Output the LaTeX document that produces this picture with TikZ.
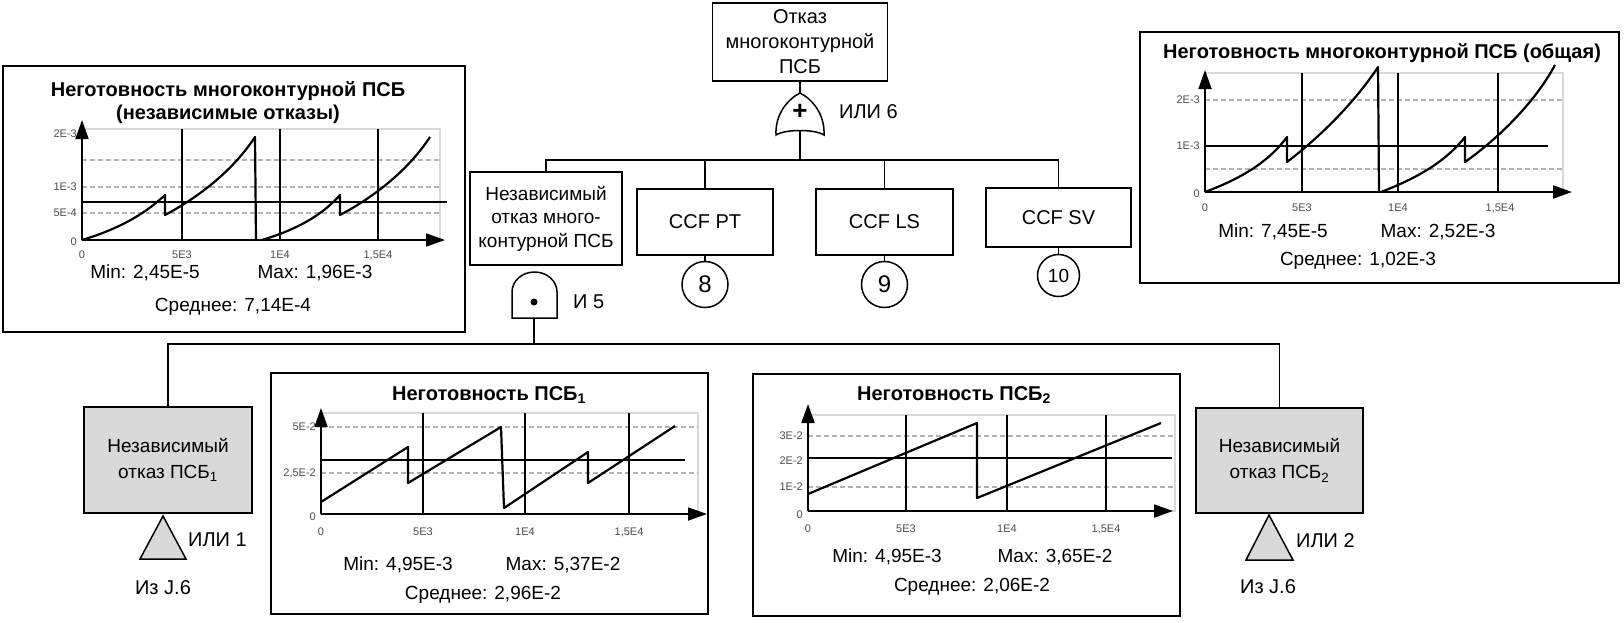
\documentclass[tikz,border=0pt]{standalone}
\usepackage{fontspec}
\setmainfont{Liberation Sans}
\usetikzlibrary{arrows.meta, positioning}

\begin{document}
\begin{tikzpicture}[x=1pt, y=-1pt,
    every node/.style={font=\fontsize{20}{25}\selectfont, inner sep=0pt},
    box/.style={draw, line width=1.5pt, align=center},
    basic/.style={box, fill=black!15},
    refnum/.style={draw, circle, line width=1.5pt, minimum size=46pt, font=\fontsize{24}{24}\selectfont},
    wire/.style={line width=1.5pt},
    panel/.style={draw, line width=1.8pt},
    ttl/.style={font=\fontsize{20}{22.5}\selectfont\bfseries, align=center},
    stat/.style={font=\fontsize{19}{23}\selectfont},
    ticklbl/.style={font=\fontsize{11}{13}\selectfont, text=black!70},
    axarrow/.style={line width=1.8pt, -{Triangle[length=19pt,width=13pt]}},
    plotarea/.style={draw=black!15, line width=1.5pt},
    gridln/.style={draw=black!30, line width=1.5pt, dash pattern=on 5pt off 3pt},
    vline/.style={line width=1.1pt},
    meanln/.style={line width=1.8pt},
    trace/.style={line width=2.2pt, line join=round},
  ]
  \useasboundingbox (0,0) rectangle (1624,622);
  \fill[white] (0,0) rectangle (1624,622);

  % fault tree: top event
  \node[box, minimum width=175pt, minimum height=78pt] (top) at (800,42) {Отказ\\многоконтурной\\ПСБ};
  \draw[wire, fill=white] (776,135) .. controls (775,114) and (788,99) .. (800,93)
    .. controls (812,99) and (825,114) .. (824,135)
    .. controls (815,129) and (785,129) .. (776,135) -- cycle;
  \node[font=\fontsize{26}{26}\selectfont\bfseries] (plus6) at (800,112) {+};
  \coordinate (or6in) at (800,93);
  \coordinate (or6out) at (800,131);
  \coordinate (bus6) at (800,160);
  \node[anchor=west] (lbl6) at (839,112) {ИЛИ 6};

  \node[box, minimum width=152pt, minimum height=93pt, font=\fontsize{19}{23.5}\selectfont] (indep) at (546,218.5)
    {Независимый\\отказ много-\\контурной ПСБ};
  \node[box, minimum width=136pt, minimum height=66pt] (ccfpt) at (705,222) {CCF PT};
  \node[box, minimum width=137pt, minimum height=66pt] (ccfls) at (884.5,222) {CCF LS};
  \node[box, minimum width=145pt, minimum height=59pt] (ccfsv) at (1058.5,217.5) {CCF SV};
  \node[refnum, below=5pt of ccfpt] (n8) {8};
  \node[refnum, below=5pt of ccfls] (n9) {9};
  \node[refnum, minimum size=42pt, font=\fontsize{19}{19}\selectfont, below=6pt of ccfsv] (n10) {10};

  \draw[wire] (top) -- (or6in);
  \draw[wire] (or6out) -- (bus6);
  \draw[wire] (indep.north) |- (bus6) -| (ccfsv.north);
  \draw[wire] (ccfpt.north) -- (ccfpt.north |- bus6);
  \draw[wire] (ccfls.north) -- (ccfls.north |- bus6);
  \draw[wire] (ccfpt) -- (n8);
  \draw[wire] (ccfls) -- (n9);
  \draw[wire] (ccfsv) -- (n10);

  % AND gate
  \draw[wire, fill=white] (512,318) -- (512,292)
    arc[start angle=180, end angle=360, x radius=22.5, y radius=20] -- (557,318) -- cycle;
  \fill (534,302) circle[radius=3.5];
  \coordinate (and5out) at (534,318);
  \coordinate (bus5) at (534,344);
  \node[anchor=west] (lbl5) at (573,302) {И 5};

  \node[basic, minimum width=168pt, minimum height=106pt, font=\fontsize{19}{26}\selectfont] (basic1) at (168,460)
    {Независимый\\отказ ПСБ\textsubscript{1}};
  \node[basic, minimum width=167pt, minimum height=105pt, font=\fontsize{19}{26}\selectfont] (basic2) at (1279.5,460.5)
    {Независимый\\отказ ПСБ\textsubscript{2}};
  \draw[wire] (and5out) -- (bus5);
  \draw[wire] (basic1.north) |- (bus5) -| (basic2.north);

  % transfer triangles
  \draw[wire, fill=black!15] (163,516) -- (186,559) -- (140,559) -- cycle;
  \node[anchor=west] (lbl1) at (188,540) {ИЛИ 1};
  \node (from1) at (163,588) {Из J.6};
  \draw[wire, fill=black!15] (1269,515) -- (1293,560) -- (1246,560) -- cycle;
  \node[anchor=west] (lbl2) at (1296,541) {ИЛИ 2};
  \node (from2) at (1268,587) {Из J.6};

  % panel: independent failures
  \node[panel, minimum width=462pt, minimum height=266pt] (pInd) at (234,199) {};
  \node[ttl] (tInd) at (228,102.5) {Неготовность многоконтурной ПСБ\\(независимые отказы)};
  \begin{scope}[shift={(82,240)}]
    \draw[plotarea] (0,0) rectangle (358,-111);
    \foreach \y in {-27,-53,-80} \draw[gridln] (0,\y) -- (358,\y);
    \foreach \x in {100,198,296} \draw[vline] (\x,0) -- (\x,-111);
    \draw[meanln] (0,-38) -- (365,-38);
    \draw[trace] (0,0) .. controls (40,-12) and (65,-28) .. (83,-45) -- (83,-25)
      .. controls (115,-42) and (150,-68) .. (173,-103) -- (174,0);
    \draw[trace] (180,0) .. controls (220,-12) and (243,-28) .. (258,-45) -- (258,-25)
      .. controls (290,-42) and (325,-68) .. (348,-103);
    \draw[axarrow] (0,0) -- (0,-120);
    \draw[axarrow] (0,0) -- (363,0);
    \foreach \y/\t [count=\i] in {-106/2E-3,-53/1E-3,-27/5E-4,2/0}
      \node[ticklbl, anchor=east] (yInd\i) at (-5,\y) {\t};
    \foreach \x/\t [count=\i] in {0/0,100/5E3,198/1E4,296/{1,5E4}}
      \node[ticklbl] (xInd\i) at (\x,15) {\t};
  \end{scope}
  \node[stat] (minInd) at (145,273) {Min: 2,45E-5};
  \node[stat] (maxInd) at (315,273) {Max: 1,96E-3};
  \node[stat] (avgInd) at (233,307) {Среднее: 7,14E-4};

  % panel: total
  \node[panel, minimum width=479pt, minimum height=251pt] (pAll) at (1379.5,157.5) {};
  \node[ttl] (tAll) at (1382,53) {Неготовность многоконтурной ПСБ (общая)};
  \begin{scope}[shift={(1205,192)}]
    \draw[plotarea] (0,0) rectangle (358,-119);
    \foreach \y in {-92,-23} \draw[gridln] (0,\y) -- (358,\y);
    \foreach \x in {97,193,293} \draw[vline] (\x,0) -- (\x,-119);
    \draw[meanln] (0,-46) -- (343,-46);
    \draw[trace] (0,0) .. controls (40,-15) and (65,-32) .. (82,-55) -- (82,-30)
      .. controls (115,-55) and (150,-90) .. (173,-125) -- (174,0);
    \draw[trace] (176,0) .. controls (215,-15) and (242,-32) .. (260,-55) -- (260,-30)
      .. controls (295,-55) and (330,-90) .. (350,-127);
    \draw[axarrow] (0,0) -- (0,-122);
    \draw[axarrow] (0,0) -- (367,0);
    \foreach \y/\t [count=\i] in {-92/2E-3,-46/1E-3,2/0}
      \node[ticklbl, anchor=east] (yAll\i) at (-5,\y) {\t};
    \foreach \x/\t [count=\i] in {0/0,97/5E3,193/1E4,295/{1,5E4}}
      \node[ticklbl] (xAll\i) at (\x,16) {\t};
  \end{scope}
  \node[stat] (minAll) at (1273,232) {Min: 7,45E-5};
  \node[stat] (maxAll) at (1438,232) {Max: 2,52E-3};
  \node[stat] (avgAll) at (1358,261) {Среднее: 1,02E-3};

  % panel: PSB 1
  \node[panel, minimum width=437pt, minimum height=241pt] (pOne) at (489.5,493.5) {};
  \node[ttl] (tOne) at (489,395) {Неготовность ПСБ\textsubscript{1}};
  \begin{scope}[shift={(321,514)}]
    \draw[plotarea] (0,0) rectangle (377,-101);
    \foreach \y in {-87,-41} \draw[gridln] (0,\y) -- (377,\y);
    \foreach \x in {102,204,308} \draw[vline] (\x,0) -- (\x,-101);
    \draw[meanln] (0,-54) -- (364,-54);
    \draw[trace] (0,-12) -- (87,-67) -- (87,-31) -- (180,-87) -- (183,-6)
      -- (267,-62) -- (267,-31) -- (354,-88);
    \draw[axarrow] (0,0) -- (0,-106);
    \draw[axarrow] (0,0) -- (386,0);
    \foreach \y/\t [count=\i] in {-87/5E-2,-41/{2,5E-2},3/0}
      \node[ticklbl, anchor=east] (yOne\i) at (-5,\y) {\t};
    \foreach \x/\t [count=\i] in {0/0,102/5E3,204/1E4,308/{1,5E4}}
      \node[ticklbl] (xOne\i) at (\x,18) {\t};
  \end{scope}
  \node[stat] (minOne) at (398,565) {Min: 4,95E-3};
  \node[stat] (maxOne) at (563,565) {Max: 5,37E-2};
  \node[stat] (avgOne) at (483,595) {Среднее: 2,96E-2};

  % panel: PSB 2
  \node[panel, minimum width=427pt, minimum height=242pt] (pTwo) at (966.5,495) {};
  \node[ttl] (tTwo) at (954,395) {Неготовность ПСБ\textsubscript{2}};
  \begin{scope}[shift={(808,511)}]
    \draw[plotarea] (0,0) rectangle (367,-96);
    \foreach \y in {-75,-24} \draw[gridln] (0,\y) -- (367,\y);
    \foreach \x in {98,199,298} \draw[vline] (\x,0) -- (\x,-96);
    \draw[meanln] (0,-53) -- (364,-53);
    \draw[trace] (0,-17) -- (169,-88) -- (169,-13) -- (353,-88);
    \draw[axarrow] (0,0) -- (0,-107);
    \draw[axarrow] (0,0) -- (365,0);
    \foreach \y/\t [count=\i] in {-75/3E-2,-50/2E-2,-24/1E-2,4/0}
      \node[ticklbl, anchor=east] (yTwo\i) at (-5,\y) {\t};
    \foreach \x/\t [count=\i] in {0/0,98/5E3,199/1E4,298/{1,5E4}}
      \node[ticklbl] (xTwo\i) at (\x,18) {\t};
  \end{scope}
  \node[stat] (minTwo) at (887,557) {Min: 4,95E-3};
  \node[stat] (maxTwo) at (1055,557) {Max: 3,65E-2};
  \node[stat] (avgTwo) at (972,587) {Среднее: 2,06E-2};
\end{tikzpicture}
\end{document}
